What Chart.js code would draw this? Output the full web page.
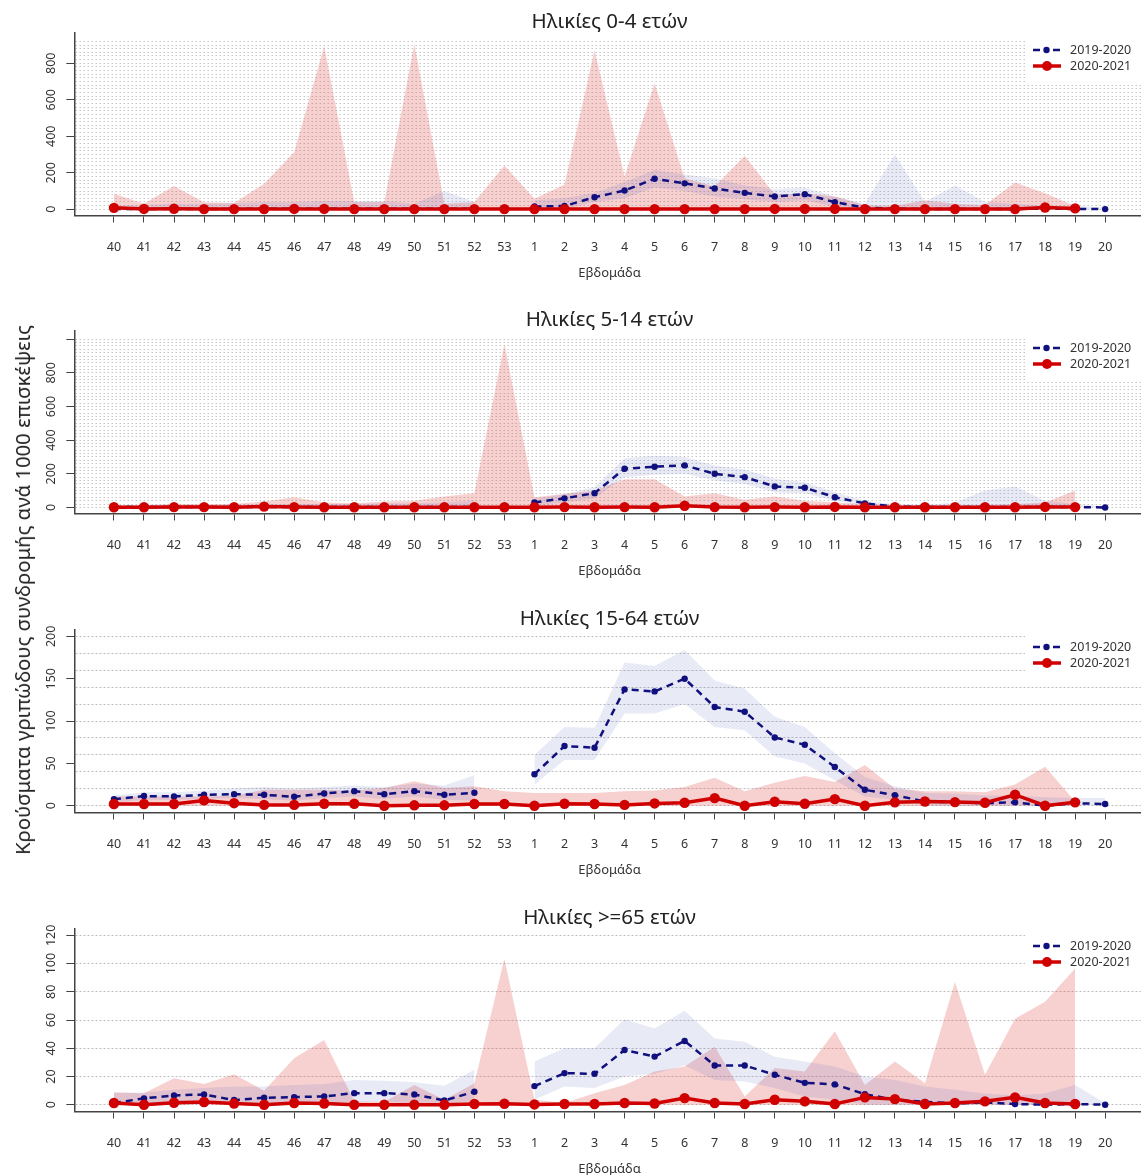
<!DOCTYPE html>
<html>
<head>
<meta charset="utf-8">
<script src="https://cdn.jsdelivr.net/npm/chart.js@4.4.1/dist/chart.umd.min.js"></script>
<style>
  html, body { margin: 0; padding: 0; background: #fff; overflow: hidden; }
  #page { position: relative; width: 1141px; height: 1175px; overflow: hidden; }
  .panel { position: absolute; left: 0; }
  #ylabel {
    position: absolute; left: 22px; top: 590px;
    transform: translate(-50%, -50%) rotate(-90deg);
    white-space: nowrap; font: 20.3px 'Noto Sans', sans-serif; color: #222;
  }
</style>
</head>
<body>
<div id="page">
  <canvas class="panel" id="p0" width="1150" height="299" style="top:0px"></canvas>
  <canvas class="panel" id="p1" width="1150" height="299" style="top:298px"></canvas>
  <canvas class="panel" id="p2" width="1150" height="299" style="top:597px"></canvas>
  <canvas class="panel" id="p3" width="1150" height="299" style="top:896px"></canvas>
  <div id="ylabel">Κρούσματα γριπώδους συνδρομής ανά 1000 επισκέψεις</div>
</div>
<script>
const weeks = ["40","41","42","43","44","45","46","47","48","49","50","51","52","53",
  "1","2","3","4","5","6","7","8","9","10","11","12","13","14","15","16","17","18","19","20"]
const titles = ["Ηλικίες 0-4 ετών", "Ηλικίες 5-14 ετών", "Ηλικίες 15-64 ετών", "Ηλικίες >=65 ετών"]
const seriesNames = ["2019-2020", "2020-2021"]
const xTitle = "Εβδομάδα"

// 0-4
const blue04   = [2,2,2,2,2,3,3,3,3,3,3,3,3,null, 15,18,66,103,167,142,114,90,70,83,39,9,3,2,2,2,2,3,2,1]
const blueHi04 = [20,25,30,30,35,40,40,45,45,45,30,100,40,null, 50,60,90,150,215,190,170,130,110,120,70,30,300,40,130,40,30,20,20,10]
const blueLo04 = [0,0,0,0,0,0,0,0,0,0,0,0,0,null, 0,0,40,60,120,100,70,55,40,50,15,0,0,0,0,0,0,0,0,0]
const red04    = [8,2,3,1,1,1,2,2,1,1,1,1,1,1, 1,1,1,1,1,1,1,1,2,2,2,1,1,1,1,1,1,10,5,null]
const redHi04  = [85,31,127,38,35,140,313,895,40,40,904,31,40,240, 58,136,871,180,690,170,125,294,80,88,70,24,20,50,30,24,147,88,18,null]
const redLo04  = [0,0,0,0,0,0,0,0,0,0,0,0,0,0, 0,0,0,0,0,0,0,0,0,0,0,0,0,0,0,0,0,0,0,null]

// 5-14
const blue514   = [2,2,3,3,3,3,3,3,3,3,3,3,3,null, 30,54,85,230,242,250,200,180,125,117,61,24,5,3,3,3,3,3,2,0]
const blueHi514 = [15,15,15,15,15,20,20,20,20,25,25,30,40,null, 50,80,120,293,307,300,250,225,170,150,90,40,20,15,30,100,125,40,20,5]
const blueLo514 = [0,0,0,0,0,0,0,0,0,0,0,0,0,null, 10,30,55,180,195,200,160,140,90,85,40,10,0,0,0,0,0,0,0,0]
const red514    = [1,1,2,2,1,5,2,1,1,1,1,1,1,1, 1,2,1,2,1,10,2,1,2,1,3,1,1,1,1,1,1,3,2,null]
const redHi514  = [10,15,20,20,20,36,60,30,25,36,40,65,85,972, 60,80,100,168,168,65,85,45,65,40,30,20,15,15,15,15,20,30,100,null]
const redLo514  = [0,0,0,0,0,0,0,0,0,0,0,0,0,0, 0,0,0,0,0,0,0,0,0,0,0,0,0,0,0,0,0,0,0,null]

// 15-64
const blue1564   = [7.8,11.4,11,12.9,13.7,12.9,10.6,14.5,17.2,13.7,17.2,12.9,15.3,null, 37.2,70.5,68.5,137.4,135,150,116.6,111,80.6,72,45.8,18.8,12.5,5,4,3,4,0,3,2]
const blueHi1564 = [12,16,16,18,20,22,20,22,24,22,26,24,36,null, 60,93,92,169,165,184,148,138,105,93,62,34,23,15,14,12,12,10,9,9]
const blueLo1564 = [4,7,7,8,9,8,6,9,11,8,11,7,6,null, 25,54,54,109,109,120,93,89,58,50,30,11,7,0,0,0,0,0,0,0]
const red1564    = [2,2,2,6.3,3,1,1,2.3,2.3,0,0.5,0.5,2,2, 0,2.3,2,1,2.7,3.5,9,0,4.7,2.3,7.8,0,4,5,4.3,3.5,13,0,4,null]
const redHi1564  = [11,11,11,11,12,19,19,19,18,21,29,21,23,17, 15,15,15,17,18,22,33,17,27,35,28,48,20,17,17,16,25,46,5,null]
const redLo1564  = [0,0,0,0,0,0,0,0,0,0,0,0,0,0, 0,0,0,0,0,0,0,0,0,0,0,0,0,0,0,0,0,0,0,null]

// >=65
const blue65   = [1.2,4.5,6.6,7.3,3.3,4.9,5.4,5.9,8.2,8.2,7.3,3,9.2,null, 13.2,22.4,21.9,38.8,34.1,45.2,27.8,27.8,21.2,15.5,14.4,7.5,3.5,2,1,1.6,0.5,0,0.5,0]
const blueHi65 = [8.7,8.7,10.6,11.8,13,13,14,14.6,17.6,17,16,13.4,24.7,null, 30.6,40,40,60.5,54,66.6,47,44.7,34,30.6,27,20,17.6,13,10.6,8,6.6,8,14,1]
const blueLo65 = [0,1,2,3,0,1,1,1,2,2,1,0,3,null, 3.5,13,11.8,20,22,28,17.6,16.5,11.8,5.9,3.5,0,0,0,0,0,0,0,0,0]
const red65    = [1.2,0,1.4,1.9,0.9,0,1.2,0.9,0,0,0,0,0.5,0.7, 0.2,0.5,0.5,1.2,0.9,4.7,1.2,0.5,3.5,2.4,0.5,5.2,4,0.5,1.2,2.4,5.2,1.2,0.5,null]
const redHi65  = [8.7,8.2,18.8,14.6,21.6,9.9,33,45.9,2.5,2,14,3.5,15.3,103.5, 3.5,1.2,8.2,14,23.5,27,41,5.9,26,23.5,52,14,30.6,15.3,87,21.2,61,73,96.5,null]
const redLo65  = [0,0,0,0,0,0,0,0,0,0,0,0,0,0, 0,0,0,0,0,0,0,0,0,0,0,0,0,0,0,0,0,0,0,null]

// y tick labels per panel
const yLabels04 = [0,200,400,600,800]
const yLabels514 = [0,200,400,600,800]
const yLabels1564 = [0,50,100,150,200]
const yLabels65 = [0,20,40,60,80,100,120]

const FONT = "'Noto Sans', sans-serif"
const NAVY = "#10107e"
const RED = "#d00000"
const PINK = "rgba(222,60,60,0.24)"
const LAV = "rgba(80,95,185,0.13)"
const AXIS = "#444"

Chart.defaults.font.family = FONT

const panels = [
  {id: "p0", title: titles[0], blue: blue04, blueHi: blueHi04, blueLo: blueLo04, red: red04, redHi: redHi04, redLo: redLo04,
   ymin: -34, ymax: 968, gridTop: 920, labels: yLabels04, marks: yLabels04, dense: true},
  {id: "p1", title: titles[1], blue: blue514, blueHi: blueHi514, blueLo: blueLo514, red: red514, redHi: redHi514, redLo: redLo514,
   ymin: -36, ymax: 1051, gridTop: 1000, labels: yLabels514, marks: yLabels514.concat([1000]), dense: true},
  {id: "p2", title: titles[2], blue: blue1564, blueHi: blueHi1564, blueLo: blueLo1564, red: red1564, redHi: redHi1564, redLo: redLo1564,
   ymin: -8, ymax: 208, gridTop: 200, labels: yLabels1564, marks: yLabels1564, dense: false},
  {id: "p3", title: titles[3], blue: blue65, blueHi: blueHi65, blueLo: blueLo65, red: red65, redHi: redHi65, redLo: redLo65,
   ymin: -4.8, ymax: 124.8, gridTop: 120, labels: yLabels65, marks: yLabels65, dense: false}
]

const pts = arr => arr.map((v, i) => ({x: i, y: v}))

function gridValues(top) {
  const vals = []
  for (let v = 0; v <= top; v += 20) vals.push(v)
  return vals
}

// white legend box (under the data, over the grid), y labels and legend entries
const decor = {
  id: "decor",
  beforeDatasetsDraw(chart) {
    const {ctx, chartArea} = chart
    ctx.save()
    ctx.fillStyle = "#fff"
    ctx.fillRect(1025, chartArea.top, chartArea.right - 1025 + 5, 84 - chartArea.top)
    ctx.restore()
  },
  afterDraw(chart) {
    const {ctx} = chart
    const y = chart.scales.y
    const p = chart.options.plugins.decor
    ctx.save()
    ctx.fillStyle = "#333"
    ctx.font = "12.5px " + FONT
    ctx.textAlign = "center"
    ctx.textBaseline = "middle"
    p.labels.forEach(v => {
      ctx.save()
      ctx.translate(51, y.getPixelForValue(v))
      ctx.rotate(-Math.PI / 2)
      ctx.fillText(String(v), 0, 0)
      ctx.restore()
    })
    // legend
    const ly1 = 50, ly2 = 66
    ctx.strokeStyle = NAVY
    ctx.lineWidth = 2.5
    ctx.beginPath()
    ctx.moveTo(1033, ly1); ctx.lineTo(1040, ly1)
    ctx.moveTo(1053, ly1); ctx.lineTo(1060, ly1)
    ctx.stroke()
    ctx.fillStyle = NAVY
    ctx.beginPath(); ctx.arc(1046.5, ly1, 3.2, 0, Math.PI * 2); ctx.fill()
    ctx.strokeStyle = RED
    ctx.lineWidth = 3.5
    ctx.beginPath(); ctx.moveTo(1033, ly2); ctx.lineTo(1061, ly2); ctx.stroke()
    ctx.fillStyle = RED
    ctx.beginPath(); ctx.arc(1047, ly2, 5, 0, Math.PI * 2); ctx.fill()
    ctx.fillStyle = "#333"
    ctx.textAlign = "left"
    ctx.font = "12.5px " + FONT
    ctx.fillText(seriesNames[0], 1070, ly1)
    ctx.fillText(seriesNames[1], 1070, ly2)
    ctx.restore()
  }
}

function makePanel(p) {
  const grid = gridValues(p.gridTop)
  const tickVals = Array.from(new Set(grid.concat(p.marks))).sort((a, b) => a - b)
  new Chart(document.getElementById(p.id), {
    type: "line",
    data: {
      datasets: [
        {label: seriesNames[1], data: pts(p.red), borderColor: RED, backgroundColor: RED, borderWidth: 3.5,
         pointRadius: 5.2, pointBorderWidth: 0, fill: false, order: 0},
        {label: seriesNames[0], data: pts(p.blue), borderColor: NAVY, backgroundColor: NAVY, borderWidth: 2.5,
         borderDash: [7, 5], pointRadius: 3.2, pointBorderWidth: 0, fill: false, order: 1},
        {label: "blueHi", data: pts(p.blueHi), borderColor: "transparent", borderWidth: 0, backgroundColor: LAV,
         pointRadius: 0, fill: "+1", order: 2},
        {label: "blueLo", data: pts(p.blueLo), borderColor: "transparent", borderWidth: 0, pointRadius: 0, fill: false, order: 3},
        {label: "redHi", data: pts(p.redHi), borderColor: "transparent", borderWidth: 0, backgroundColor: PINK,
         pointRadius: 0, fill: "+1", order: 4},
        {label: "redLo", data: pts(p.redLo), borderColor: "transparent", borderWidth: 0, pointRadius: 0, fill: false, order: 5}
      ]
    },
    options: {
      responsive: false,
      animation: false,
      events: [],
      layout: {padding: {left: 0, right: 3.3, top: 0, bottom: 0}},
      plugins: {
        legend: {display: false},
        tooltip: {enabled: false},
        title: {display: true, text: p.title, color: "#222", fullSize: false,
                font: {size: 20.5, weight: "normal", lineHeight: 1.0}, padding: {top: 12.1, bottom: 0}},
        decor: {labels: p.labels}
      },
      scales: {
        x: {
          type: "linear", min: -1.32, max: 34.32,
          afterBuildTicks: axis => { axis.ticks = weeks.map((w, i) => ({value: i})) },
          afterFit: s => { s.height = 83.5; s.paddingLeft = 0; s.paddingRight = 0 },
          ticks: {callback: v => weeks[v], autoSkip: false, maxRotation: 0, minRotation: 0,
                  color: "#333", font: {size: 12.5}, padding: 17.5},
          grid: {drawOnChartArea: false, drawTicks: true, tickLength: 7, tickColor: AXIS, tickWidth: 1},
          border: {display: true, color: AXIS, width: 1.5},
          title: {display: true, text: xTitle, color: "#333", font: {size: 13}, padding: {top: 4, bottom: 18}}
        },
        y: {
          type: "linear", min: p.ymin, max: p.ymax,
          afterBuildTicks: axis => { axis.ticks = tickVals.map(v => ({value: v})) },
          afterFit: s => { s.width = 74.3; s.paddingTop = 0; s.paddingBottom = 0 },
          ticks: {callback: () => "", autoSkip: false},
          grid: {
            color: c => (c.tick && grid.includes(c.tick.value)) ? (p.dense ? "#c6c6c6" : "#bdbdbd") : "transparent",
            lineWidth: 1,
            tickColor: c => (c.tick && p.marks.includes(c.tick.value)) ? AXIS : "transparent",
            tickLength: 8, tickWidth: 1
          },
          border: {display: true, color: AXIS, width: 1.5, dash: p.dense ? [1.5, 2.5] : [2, 2]}
        }
      }
    },
    plugins: [decor]
  })
}

panels.forEach(makePanel)
</script>
</body>
</html>
